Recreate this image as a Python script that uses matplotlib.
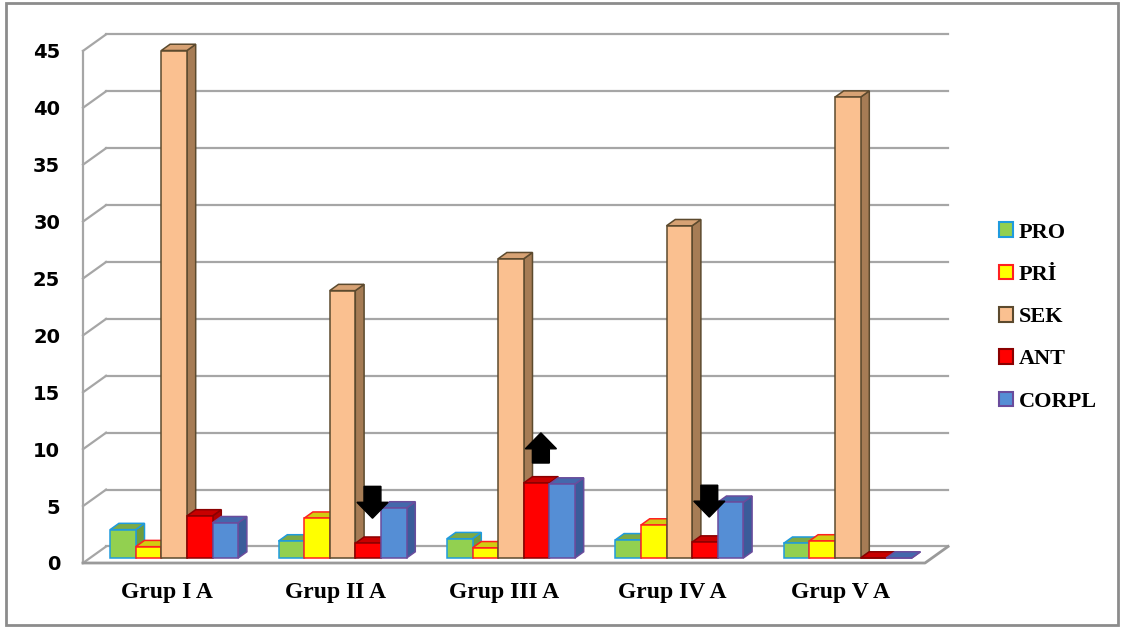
import matplotlib
matplotlib.use('Agg')
import matplotlib.pyplot as plt
from matplotlib.patches import Polygon, Patch, Rectangle, FancyArrow

groups = ['Grup I A', 'Grup II A', 'Grup III A', 'Grup IV A', 'Grup V A']
series = ['PRO', 'PRİ', 'SEK', 'ANT', 'CORPL']
pro = [2.5, 1.5, 1.7, 1.6, 1.3]
pri = [1.0, 3.5, 0.9, 2.9, 1.5]
sek = [44.6, 23.5, 26.3, 29.2, 40.5]
ant = [3.7, 1.3, 6.6, 1.4, 0.0]
corpl = [3.1, 4.4, 6.5, 4.9, 0.0]
yticks = [0, 5, 10, 15, 20, 25, 30, 35, 40, 45]

# arrows drawn above the ANT bar of these groups
arrow_groups = [1, 2, 3]
arrow_dirs = ['down', 'up', 'down']

values = [pro, pri, sek, ant, corpl]
front = ['#92D050', '#FFFF00', '#FAC090', '#FF0000', '#558ED5']
side = ['#6F9C3C', '#BEBE00', '#A67C55', '#B00000', '#3A5C9A']
top = ['#7DAA45', '#D2CC10', '#D7A274', '#C80000', '#4468AC']
edge = ['#1F9BDE', '#FF2020', '#5C4A2E', '#8B0000', '#6A4C9C']

# fake 3d geometry (data units)
DX, DY = 0.137, 1.45      # floor depth offset
BW = 0.152                # bar width
GAP = 0.12                # gap on each side of a group
F0, FD = 0.3, 0.38        # bar front position / bar depth, as part of floor depth

fig = plt.figure(figsize=(11.23, 6.28), dpi=100)
ax = fig.add_axes([83/1123, 65/628, 864/1123, 529/628])
ax.set_xlim(0, 864/168.4)
ax.set_ylim(0, 529/11.38)
for s in ax.spines.values():
    s.set_visible(False)

gc = '#A6A6A6'
for v in yticks:
    ax.plot([0, DX], [v, v + DY], color=gc, lw=1.6, zorder=1, clip_on=False)
    ax.plot([DX, len(groups) + DX], [v + DY, v + DY], color=gc, lw=1.6, zorder=1, clip_on=False)
ax.plot([0, 0], [0, yticks[-1]], color=gc, lw=1.6, zorder=1, clip_on=False)
ax.plot([0, len(groups), len(groups) + DX], [0, 0, DY], color='#9A9A9A', lw=2, zorder=1, clip_on=False)

for g in range(len(groups)):
    for s in range(len(series)):
        h = values[s][g]
        x0 = g + GAP + s * BW + F0 * DX
        y0 = F0 * DY
        z = 3 + s
        ex, ey = FD * DX, FD * DY
        sp = Polygon([(x0 + BW, y0), (x0 + BW + ex, y0 + ey), (x0 + BW + ex, y0 + h + ey), (x0 + BW, y0 + h)],
                     closed=True, facecolor=side[s], edgecolor=edge[s], lw=1.1, zorder=z, clip_on=False)
        tp = Polygon([(x0, y0 + h), (x0 + BW, y0 + h), (x0 + BW + ex, y0 + h + ey), (x0 + ex, y0 + h + ey)],
                     closed=True, facecolor=top[s], edgecolor=edge[s], lw=1.1, zorder=z, clip_on=False)
        ax.add_patch(sp)
        ax.add_patch(tp)
        ax.bar(x0, h, BW, bottom=y0, align='edge', color=front[s], edgecolor=edge[s],
               lw=1.1, zorder=z + 0.5, clip_on=False)

for g, d in zip(arrow_groups, arrow_dirs):
    xc = g + GAP + 3 * BW + F0 * DX + BW / 2 + FD * DX / 2
    ytop = F0 * DY + ant[g]
    if d == 'down':
        arr = FancyArrow(xc, ytop + 2.2 + 2.8, 0, -2.8, width=0.10, head_width=0.185,
                         head_length=1.4, length_includes_head=True, color='black', zorder=10)
    else:
        arr = FancyArrow(xc, ytop + 1.75, 0, 2.65, width=0.10, head_width=0.185,
                         head_length=1.4, length_includes_head=True, color='black', zorder=10)
    ax.add_patch(arr)

ax.set_yticks(yticks)
ax.set_yticklabels([str(v) for v in yticks], fontsize=14, fontweight='bold')
ax.tick_params(axis='y', length=0, pad=16.5)
ax.set_xticks([g + 0.5 for g in range(len(groups))])
ax.set_xticklabels(groups, fontsize=17, fontweight='bold', family='Liberation Serif')
ax.tick_params(axis='x', length=0, pad=14)

handles = [Patch(facecolor=front[i], edgecolor=edge[i], lw=1.5) for i in range(len(series))]
fig.legend(handles, series, loc='center left', bbox_to_anchor=(999/1123, 0.495), frameon=False,
           prop=dict(family='Liberation Serif', weight='bold', size=16),
           handlelength=0.63, handleheight=0.63, handletextpad=0.25, labelspacing=1.0,
           borderpad=0, borderaxespad=0)

fig.patches.append(Rectangle((6/1123, 3/628), 1112/1123, 622/628, transform=fig.transFigure,
                             fill=False, edgecolor='#8C8C8C', lw=2))

fig.savefig('out.png', dpi=100)
